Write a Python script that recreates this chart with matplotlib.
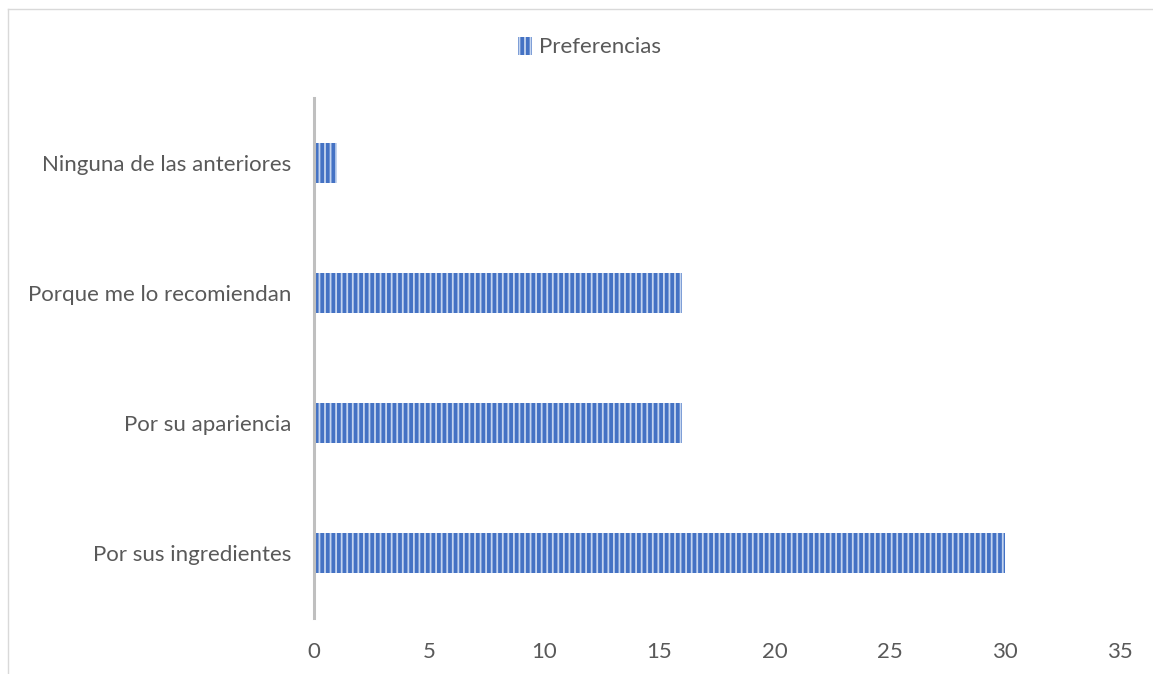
import matplotlib
matplotlib.use("Agg")
import matplotlib.pyplot as plt
from matplotlib.lines import Line2D

categorias = ["Por sus ingredientes", "Por su apariencia",
              "Porque me lo recomiendan", "Ninguna de las anteriores"]
preferencias = [30, 16, 16, 1]
ticks_x = [0, 5, 10, 15, 20, 25, 30, 35]

plt.rcParams['font.family'] = ['Lato', 'DejaVu Sans']
plt.rcParams['hatch.linewidth'] = 1.3
gris = '#595959'

fig = plt.figure(figsize=(11.53, 6.74), dpi=100)
ax = fig.add_axes([0.2723, 0.0831, 0.699, 0.7715])

pos = list(range(len(categorias)))
ax.barh(pos, preferencias, height=0.31, color='#4472C4',
        edgecolor='#C5D5EF', hatch='|||', linewidth=0, label='Preferencias')

ax.set_xlim(0, 35)
ax.set_ylim(-0.5, 3.5)
ax.set_xticks(ticks_x)
ax.set_yticks(pos)
ax.set_yticklabels(categorias)
ax.tick_params(axis='both', length=0, labelsize=16, labelcolor=gris)
ax.tick_params(axis='x', pad=17)
ax.tick_params(axis='y', pad=16)

for s in ['top', 'right', 'bottom']:
    ax.spines[s].set_visible(False)
ax.spines['left'].set_color('#BFBFBF')
ax.spines['left'].set_linewidth(2.2)

leg = ax.legend(loc='center', bbox_to_anchor=(0.511, 0.93), bbox_transform=fig.transFigure,
                frameon=False, fontsize=16, handlelength=0.65, handleheight=0.85,
                handletextpad=0.3)
for t in leg.get_texts():
    t.set_color(gris)

# marco del gráfico
x0, y0 = 8 / 1153, 1 - 9 / 674
fig.add_artist(Line2D([x0, x0], [0, y0], transform=fig.transFigure, color='#D9D9D9', lw=1))
fig.add_artist(Line2D([x0, 1], [y0, y0], transform=fig.transFigure, color='#D9D9D9', lw=1))

plt.savefig("out.png", dpi=100)
